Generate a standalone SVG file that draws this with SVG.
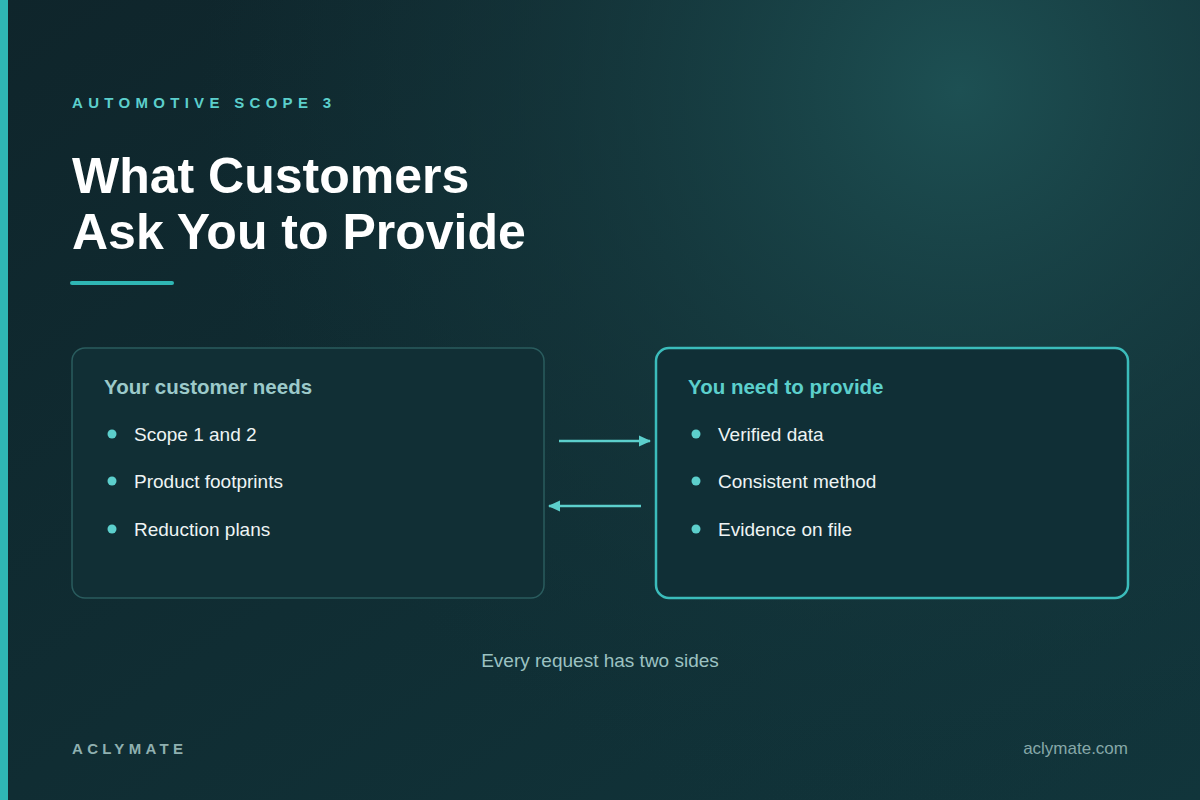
<svg xmlns="http://www.w3.org/2000/svg" width="1200" height="800" viewBox="0 0 1200 800">
  <defs>
    <linearGradient id="bg" x1="0" y1="0" x2="1" y2="1">
      <stop offset="0" stop-color="#0f252b"/>
      <stop offset="1" stop-color="#11353b"/>
    </linearGradient>
    <radialGradient id="glow" cx="960" cy="90" r="760" gradientUnits="userSpaceOnUse">
      <stop offset="0" stop-color="#1d5053" stop-opacity="1"/>
      <stop offset="0.6" stop-color="#16393e" stop-opacity="0.5"/>
      <stop offset="1" stop-color="#12343a" stop-opacity="0"/>
    </radialGradient>
    <marker id="arr" viewBox="0 0 12 12" refX="11" refY="6" markerWidth="12" markerHeight="12" markerUnits="userSpaceOnUse" orient="auto">
      <path d="M0,0.5 L12,6 L0,11.5 z" fill="#5ccfcc"/>
    </marker>
    <style>
      .sans { font-family: "Liberation Sans", Arial, Helvetica, sans-serif; }
      .eyebrow { font-size: 15px; font-weight: 700; fill: #5ccfcc; letter-spacing: 5.3px; }
      .title { font-size: 50px; font-weight: 700; fill: #ffffff; }
      .hdr { font-size: 20.5px; font-weight: 700; }
      .item { font-size: 19px; fill: #eef4f4; }
      .dot { fill: #5ccfcc; }
      .conn { stroke: #5ccfcc; stroke-width: 2.5; fill: none; }
      .caption { font-size: 19px; fill: #9cc2c2; }
      .brand { font-size: 15px; font-weight: 700; fill: #8fb0b0; letter-spacing: 4.3px; }
      .url { font-size: 17px; fill: #86a8a8; }
    </style>
  </defs>

  <rect width="1200" height="800" fill="url(#bg)"/>
  <rect width="1200" height="800" fill="url(#glow)"/>
  <rect x="0" y="0" width="8" height="800" fill="#2fb6b4"/>

  <g id="header" class="sans">
    <text class="sans eyebrow" x="72" y="108">AUTOMOTIVE SCOPE 3</text>
    <text class="sans title" x="72" y="193">What Customers</text>
    <text class="sans title" x="72" y="249">Ask You to Provide</text>
    <rect x="70" y="281" width="104" height="4" rx="2" fill="#2fb6b4"/>
  </g>

  <g id="customer-needs" class="sans">
    <rect x="72" y="348" width="472" height="250" rx="13" fill="#112f35" stroke="#2a5c5e" stroke-width="1.5"/>
    <text class="sans hdr" x="104" y="394" fill="#9ccaca">Your customer needs</text>
    <circle class="dot" cx="112" cy="434" r="4.5"/>
    <text class="sans item" x="134" y="441">Scope 1 and 2</text>
    <circle class="dot" cx="112" cy="481" r="4.5"/>
    <text class="sans item" x="134" y="488">Product footprints</text>
    <circle class="dot" cx="112" cy="529" r="4.5"/>
    <text class="sans item" x="134" y="536">Reduction plans</text>
  </g>

  <g id="you-provide" class="sans">
    <rect x="656" y="348" width="472" height="250" rx="13" fill="#102f36" stroke="#3bbcbb" stroke-width="2.5"/>
    <text class="sans hdr" x="688" y="394" fill="#5ccfcc">You need to provide</text>
    <circle class="dot" cx="696" cy="434" r="4.5"/>
    <text class="sans item" x="718" y="441">Verified data</text>
    <circle class="dot" cx="696" cy="481" r="4.5"/>
    <text class="sans item" x="718" y="488">Consistent method</text>
    <circle class="dot" cx="696" cy="529" r="4.5"/>
    <text class="sans item" x="718" y="536">Evidence on file</text>
  </g>

  <g id="connectors">
    <line class="conn" x1="559" y1="441" x2="650" y2="441" marker-end="url(#arr)"/>
    <line class="conn" x1="641" y1="506" x2="549" y2="506" marker-end="url(#arr)"/>
  </g>

  <g id="footer" class="sans">
    <text class="sans caption" x="600" y="667" text-anchor="middle">Every request has two sides</text>
    <text class="sans brand" x="72" y="754">ACLYMATE</text>
    <text class="sans url" x="1128" y="754" text-anchor="end">aclymate.com</text>
  </g>
</svg>
